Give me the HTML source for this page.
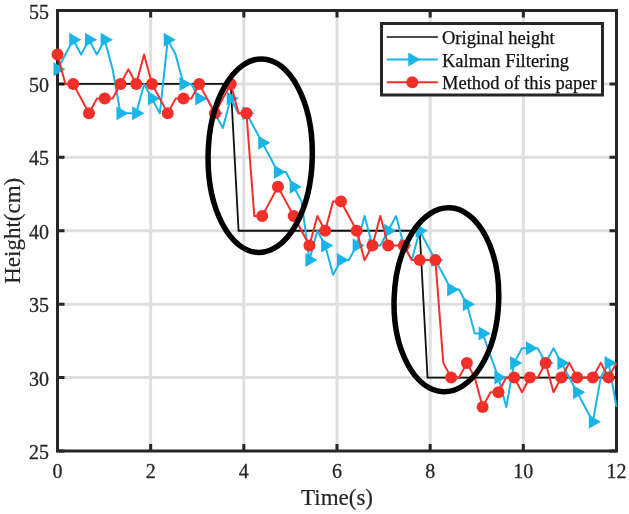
<!DOCTYPE html><html><head><meta charset="utf-8"><style>
html,body{margin:0;padding:0;background:#fff;width:629px;height:514px;overflow:hidden}
svg{display:block;will-change:transform}
text{font-family:"Liberation Serif",serif;fill:#262626;stroke:#262626;stroke-width:0.3px}
.al{stroke-width:0.2px}
.lg{fill:#111;stroke:#111;stroke-width:0.25px}
</style></head><body>
<svg width="629" height="514" viewBox="0 0 629 514">
<rect width="629" height="514" fill="#fff"/>
<path d="M150.67 10.5V451.0M243.83 10.5V451.0M337.00 10.5V451.0M430.17 10.5V451.0M523.33 10.5V451.0M57.5 377.58H616.5M57.5 304.17H616.5M57.5 230.75H616.5M57.5 157.33H616.5M57.5 83.92H616.5" stroke="#262626" stroke-opacity="0.15" stroke-width="3" fill="none"/>
<path d="M57.50 451.0v-7M57.50 10.5v7M150.67 451.0v-7M150.67 10.5v7M243.83 451.0v-7M243.83 10.5v7M337.00 451.0v-7M337.00 10.5v7M430.17 451.0v-7M430.17 10.5v7M523.33 451.0v-7M523.33 10.5v7M616.50 451.0v-7M616.50 10.5v7M57.5 451.00h7M616.5 451.00h-7M57.5 377.58h7M616.5 377.58h-7M57.5 304.17h7M616.5 304.17h-7M57.5 230.75h7M616.5 230.75h-7M57.5 157.33h7M616.5 157.33h-7M57.5 83.92h7M616.5 83.92h-7M57.5 10.50h7M616.5 10.50h-7" stroke="#262626" stroke-width="3" fill="none"/>
<rect x="57.5" y="10.5" width="559.0" height="440.5" fill="none" stroke="#262626" stroke-width="3"/>
<polyline points="57.50,83.92 65.37,83.92 73.25,83.92 81.12,83.92 88.99,83.92 96.87,83.92 104.74,83.92 112.61,83.92 120.49,83.92 128.36,83.92 136.23,83.92 144.11,83.92 151.98,83.92 159.85,83.92 167.73,83.92 175.60,83.92 183.47,83.92 191.35,83.92 199.22,83.92 207.09,83.92 214.96,83.92 222.84,83.92 230.71,83.92 238.58,230.75 246.46,230.75 254.33,230.75 262.20,230.75 270.08,230.75 277.95,230.75 285.82,230.75 293.70,230.75 301.57,230.75 309.44,230.75 317.32,230.75 325.19,230.75 333.06,230.75 340.94,230.75 348.81,230.75 356.68,230.75 364.56,230.75 372.43,230.75 380.30,230.75 388.18,230.75 396.05,230.75 403.92,230.75 411.80,230.75 419.67,230.75 427.54,377.58 435.42,377.58 443.29,377.58 451.16,377.58 459.04,377.58 466.91,377.58 474.78,377.58 482.65,377.58 490.53,377.58 498.40,377.58 506.27,377.58 514.15,377.58 522.02,377.58 529.89,377.58 537.77,377.58 545.64,377.58 553.51,377.58 561.39,377.58 569.26,377.58 577.13,377.58 585.01,377.58 592.88,377.58 600.75,377.58 608.63,377.58 616.50,377.58" stroke="#111" stroke-width="1.8" fill="none"/>
<polyline points="57.50,69.23 65.37,54.55 73.25,39.87 81.12,54.55 88.99,39.87 96.87,54.55 104.74,39.87 112.61,69.23 120.49,113.28 128.36,113.28 136.23,113.28 144.11,83.92 151.98,98.60 159.85,113.28 167.73,39.87 175.60,54.55 183.47,83.92 191.35,83.92 199.22,98.60 207.09,98.60 214.96,113.28 222.84,127.97 230.71,98.60 238.58,113.28 246.46,113.28 254.33,127.97 262.20,142.65 270.08,157.33 277.95,172.02 285.82,172.02 293.70,186.70 301.57,201.38 309.44,260.12 317.32,230.75 325.19,245.43 333.06,274.80 340.94,260.12 348.81,260.12 356.68,245.43 364.56,216.07 372.43,245.43 380.30,245.43 388.18,230.75 396.05,216.07 403.92,245.43 411.80,260.12 419.67,230.75 427.54,245.43 435.42,260.12 443.29,274.80 451.16,289.48 459.04,289.48 466.91,304.17 474.78,333.53 482.65,333.53 490.53,355.56 498.40,377.58 506.27,406.95 514.15,362.90 522.02,348.22 529.89,348.22 537.77,348.22 545.64,362.90 553.51,348.22 561.39,362.90 569.26,377.58 577.13,392.27 585.01,406.95 592.88,421.63 600.75,377.58 608.63,362.90 616.50,406.95" stroke="#19b5e9" stroke-width="2" fill="none" stroke-linejoin="round"/>
<g fill="#19b5e9"><polygon points="53.46,62.23 53.46,76.23 65.58,69.23"/><polygon points="69.21,32.87 69.21,46.87 81.33,39.87"/><polygon points="84.95,32.87 84.95,46.87 97.08,39.87"/><polygon points="100.70,32.87 100.70,46.87 112.82,39.87"/><polygon points="116.44,106.28 116.44,120.28 128.57,113.28"/><polygon points="132.19,106.28 132.19,120.28 144.32,113.28"/><polygon points="147.94,91.60 147.94,105.60 160.06,98.60"/><polygon points="163.68,32.87 163.68,46.87 175.81,39.87"/><polygon points="179.43,76.92 179.43,90.92 191.55,83.92"/><polygon points="195.18,91.60 195.18,105.60 207.30,98.60"/><polygon points="210.92,106.28 210.92,120.28 223.05,113.28"/><polygon points="226.67,91.60 226.67,105.60 238.79,98.60"/><polygon points="242.42,106.28 242.42,120.28 254.54,113.28"/><polygon points="258.16,135.65 258.16,149.65 270.29,142.65"/><polygon points="273.91,165.02 273.91,179.02 286.03,172.02"/><polygon points="289.66,179.70 289.66,193.70 301.78,186.70"/><polygon points="305.40,253.12 305.40,267.12 317.53,260.12"/><polygon points="321.15,238.43 321.15,252.43 333.27,245.43"/><polygon points="336.90,253.12 336.90,267.12 349.02,260.12"/><polygon points="352.64,238.43 352.64,252.43 364.77,245.43"/><polygon points="368.39,238.43 368.39,252.43 380.51,245.43"/><polygon points="384.13,223.75 384.13,237.75 396.26,230.75"/><polygon points="399.88,238.43 399.88,252.43 412.01,245.43"/><polygon points="415.63,223.75 415.63,237.75 427.75,230.75"/><polygon points="431.37,253.12 431.37,267.12 443.50,260.12"/><polygon points="447.12,282.48 447.12,296.48 459.24,289.48"/><polygon points="462.87,297.17 462.87,311.17 474.99,304.17"/><polygon points="478.61,326.53 478.61,340.53 490.74,333.53"/><polygon points="494.36,370.58 494.36,384.58 506.48,377.58"/><polygon points="510.11,355.90 510.11,369.90 522.23,362.90"/><polygon points="525.85,341.22 525.85,355.22 537.98,348.22"/><polygon points="541.60,355.90 541.60,369.90 553.72,362.90"/><polygon points="557.35,355.90 557.35,369.90 569.47,362.90"/><polygon points="573.09,385.27 573.09,399.27 585.22,392.27"/><polygon points="588.84,414.63 588.84,428.63 600.96,421.63"/><polygon points="604.59,355.90 604.59,369.90 616.71,362.90"/></g>
<polyline points="57.50,54.55 65.37,83.92 73.25,83.92 81.12,98.60 88.99,113.28 96.87,98.60 104.74,98.60 112.61,98.60 120.49,83.92 128.36,69.23 136.23,83.92 144.11,54.55 151.98,83.92 159.85,98.60 167.73,113.28 175.60,98.60 183.47,98.60 191.35,98.60 199.22,83.92 207.09,98.60 214.96,113.28 222.84,98.60 230.71,83.92 238.58,113.28 246.46,113.28 254.33,216.07 262.20,216.07 270.08,201.38 277.95,186.70 285.82,201.38 293.70,216.07 301.57,230.75 309.44,245.43 317.32,216.07 325.19,230.75 333.06,201.38 340.94,201.38 348.81,216.07 356.68,230.75 364.56,260.12 372.43,245.43 380.30,216.07 388.18,245.43 396.05,245.43 403.92,245.43 411.80,260.12 419.67,260.12 427.54,260.12 435.42,260.12 443.29,362.90 451.16,377.58 459.04,377.58 466.91,362.90 474.78,377.58 482.65,406.95 490.53,392.27 498.40,392.27 506.27,377.58 514.15,377.58 522.02,392.27 529.89,377.58 537.77,377.58 545.64,362.90 553.51,392.27 561.39,377.58 569.26,362.90 577.13,377.58 585.01,377.58 592.88,377.58 600.75,362.90 608.63,377.58 616.50,362.90" stroke="#f22f29" stroke-width="2" fill="none" stroke-linejoin="round"/>
<g fill="#f22f29"><circle cx="57.50" cy="54.55" r="6"/><circle cx="73.25" cy="83.92" r="6"/><circle cx="88.99" cy="113.28" r="6"/><circle cx="104.74" cy="98.60" r="6"/><circle cx="120.49" cy="83.92" r="6"/><circle cx="136.23" cy="83.92" r="6"/><circle cx="151.98" cy="83.92" r="6"/><circle cx="167.73" cy="113.28" r="6"/><circle cx="183.47" cy="98.60" r="6"/><circle cx="199.22" cy="83.92" r="6"/><circle cx="214.96" cy="113.28" r="6"/><circle cx="230.71" cy="83.92" r="6"/><circle cx="246.46" cy="113.28" r="6"/><circle cx="262.20" cy="216.07" r="6"/><circle cx="277.95" cy="186.70" r="6"/><circle cx="293.70" cy="216.07" r="6"/><circle cx="309.44" cy="245.43" r="6"/><circle cx="325.19" cy="230.75" r="6"/><circle cx="340.94" cy="201.38" r="6"/><circle cx="356.68" cy="230.75" r="6"/><circle cx="372.43" cy="245.43" r="6"/><circle cx="388.18" cy="245.43" r="6"/><circle cx="403.92" cy="245.43" r="6"/><circle cx="419.67" cy="260.12" r="6"/><circle cx="435.42" cy="260.12" r="6"/><circle cx="451.16" cy="377.58" r="6"/><circle cx="466.91" cy="362.90" r="6"/><circle cx="482.65" cy="406.95" r="6"/><circle cx="498.40" cy="392.27" r="6"/><circle cx="514.15" cy="377.58" r="6"/><circle cx="529.89" cy="377.58" r="6"/><circle cx="545.64" cy="362.90" r="6"/><circle cx="561.39" cy="377.58" r="6"/><circle cx="577.13" cy="377.58" r="6"/><circle cx="592.88" cy="377.58" r="6"/><circle cx="608.63" cy="377.58" r="6"/></g>
<g fill="none" stroke="#000" stroke-width="5.5">
<ellipse cx="260.2" cy="155.7" rx="52.1" ry="96.8" transform="rotate(1 260.2 155.7)"/>
<ellipse cx="446.4" cy="299.8" rx="52.3" ry="92" transform="rotate(2 446.4 299.8)"/>
</g>
<text x="57.50" y="478" text-anchor="middle" font-size="20">0</text><text x="150.67" y="478" text-anchor="middle" font-size="20">2</text><text x="243.83" y="478" text-anchor="middle" font-size="20">4</text><text x="337.00" y="478" text-anchor="middle" font-size="20">6</text><text x="430.17" y="478" text-anchor="middle" font-size="20">8</text><text x="523.33" y="478" text-anchor="middle" font-size="20">10</text><text x="616.50" y="478" text-anchor="middle" font-size="20">12</text><text x="49" y="459.00" text-anchor="end" font-size="20">25</text><text x="49" y="385.58" text-anchor="end" font-size="20">30</text><text x="49" y="312.17" text-anchor="end" font-size="20">35</text><text x="49" y="238.75" text-anchor="end" font-size="20">40</text><text x="49" y="165.33" text-anchor="end" font-size="20">45</text><text x="49" y="91.92" text-anchor="end" font-size="20">50</text><text x="49" y="18.50" text-anchor="end" font-size="20">55</text>
<text x="337.00" y="504.5" text-anchor="middle" font-size="23" class="al">Time(s)</text>
<text transform="translate(19.5 230.75) rotate(-90)" text-anchor="middle" font-size="23" class="al">Height(cm)</text>
<rect x="381.5" y="23.5" width="221.0" height="71.5" fill="#fff" stroke="#262626" stroke-width="3"/>
<path d="M386.7 37.0H437.9" stroke="#111" stroke-width="1.6"/>
<path d="M386.7 59.5H437.9" stroke="#19b5e9" stroke-width="2"/>
<polygon points="408.26,52.50 408.26,66.50 420.38,59.50" fill="#19b5e9"/>
<path d="M386.7 82.2H437.9" stroke="#f22f29" stroke-width="2"/>
<circle cx="412.29999999999995" cy="82.2" r="6" fill="#f22f29"/>
<text x="442" y="44.00" font-size="18.5" class="lg">Original height</text>
<text x="442" y="66.50" font-size="18.5" class="lg">Kalman Filtering</text>
<text x="442" y="89.20" font-size="18.5" class="lg">Method of this paper</text>
</svg></body></html>
